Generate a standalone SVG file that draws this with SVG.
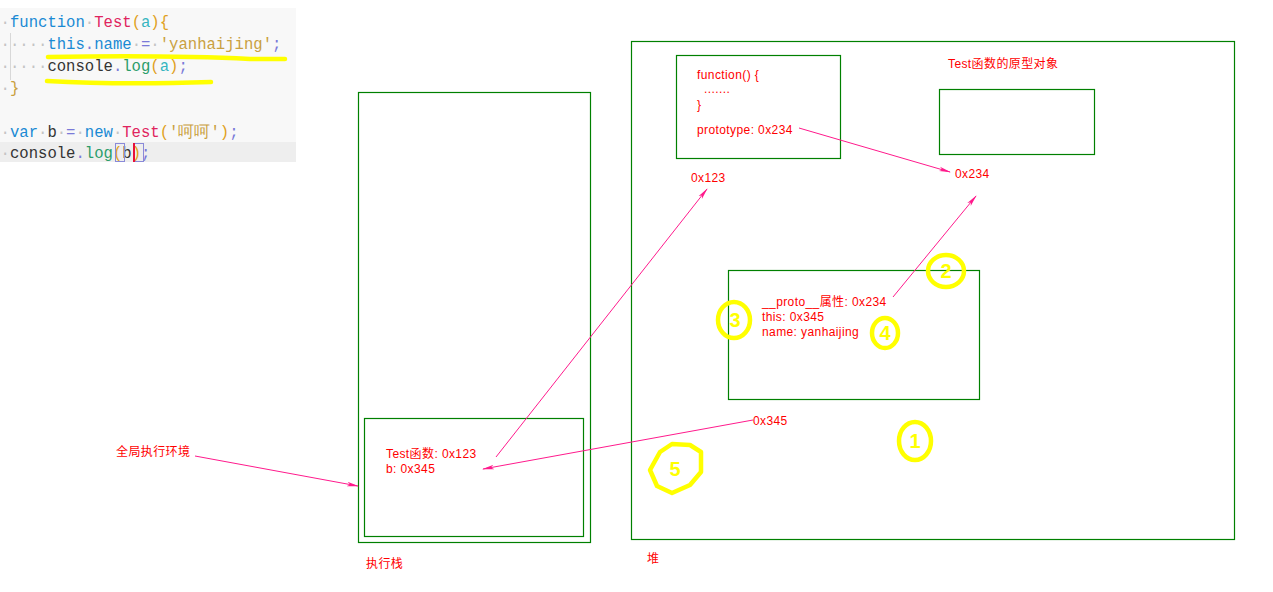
<svg xmlns="http://www.w3.org/2000/svg" width="1273" height="592" viewBox="0 0 1273 592">
<style>
.box{fill:none;stroke:#008000;stroke-width:1.2}
.lbl{font-family:"Liberation Sans","Noto Sans CJK SC",sans-serif;font-size:12px;fill:#ff0000;letter-spacing:0.4px}
.code{font-family:"Liberation Mono","DejaVu Sans Mono",monospace;font-size:15.6px;white-space:pre}
.ws{fill:#c4c4c4}
.kw{fill:#1a8ad4}
.fn{fill:#e0245e}
.pn{fill:#e0a020}
.st{fill:#c9a040}
.op{fill:#7a7ad8}
.id{fill:#333333}
.ar{fill:#35b5c0}
.mt{fill:#2a9d6a}
.conn{fill:none;stroke:#ff1a8c;stroke-width:1}
.hl{fill:none;stroke:#ffff00;stroke-width:4.5;stroke-linecap:round;stroke-linejoin:round}
.num{font-family:"Liberation Sans",sans-serif;font-size:20px;font-weight:bold;fill:#ffff00}
</style>
<defs>
<marker id="ah" markerUnits="userSpaceOnUse" markerWidth="12" markerHeight="6" refX="11" refY="3" orient="auto">
<path d="M0,0.8 L12,3 L0,5.2 L3,3 z" fill="#ff1a8c"/>
</marker>
</defs>
<rect width="1273" height="592" fill="#ffffff"/>

<g id="code-panel">
<rect x="0" y="8" width="296" height="154" fill="#f8f8f8"/>
<rect x="0" y="142" width="296" height="20" fill="#eeeeee"/>
<line x1="10.5" y1="33" x2="10.5" y2="80" stroke="#d8d8d8" stroke-width="1"/>
<text class="code" x="0.6" y="27" xml:space="preserve"><tspan class="ws">·</tspan><tspan class="kw">function</tspan><tspan class="ws">·</tspan><tspan class="fn">Test</tspan><tspan class="pn">(</tspan><tspan class="ar">a</tspan><tspan class="pn">){</tspan></text>
<text class="code" x="0.6" y="49" xml:space="preserve"><tspan class="ws">·····</tspan><tspan class="kw">this</tspan><tspan class="op">.</tspan><tspan class="kw">name</tspan><tspan class="ws">·</tspan><tspan class="op">=</tspan><tspan class="ws">·</tspan><tspan class="st">'yanhaijing'</tspan><tspan class="op">;</tspan></text>
<text class="code" x="0.6" y="71" xml:space="preserve"><tspan class="ws">·····</tspan><tspan class="id">console</tspan><tspan class="op">.</tspan><tspan class="mt">log</tspan><tspan class="pn">(</tspan><tspan class="ar">a</tspan><tspan class="pn">)</tspan><tspan class="op">;</tspan></text>
<text class="code" x="0.6" y="93" xml:space="preserve"><tspan class="ws">·</tspan><tspan class="st">}</tspan></text>
<text class="code" x="0.6" y="137" xml:space="preserve"><tspan class="ws">·</tspan><tspan class="kw">var</tspan><tspan class="ws">·</tspan><tspan class="id">b</tspan><tspan class="ws">·</tspan><tspan class="op">=</tspan><tspan class="ws">·</tspan><tspan class="kw">new</tspan><tspan class="ws">·</tspan><tspan class="fn">Test</tspan><tspan class="pn">(</tspan><tspan class="st">'呵呵'</tspan><tspan class="pn">)</tspan><tspan class="op">;</tspan></text>
<text class="code" x="0.6" y="158" xml:space="preserve"><tspan class="ws">·</tspan><tspan class="id">console</tspan><tspan class="op">.</tspan><tspan class="mt">log</tspan><tspan class="pn">(</tspan><tspan class="id">b</tspan><tspan class="pn">)</tspan><tspan class="op">;</tspan></text>
<rect x="115.5" y="143.5" width="9" height="18" fill="none" stroke="#8a8ad8" stroke-width="1"/>
<rect x="134.5" y="143.5" width="9" height="18" fill="none" stroke="#8a8ad8" stroke-width="1"/>
<rect x="133" y="143" width="2" height="19" fill="#e8103a"/>
<path class="hl" d="M48,57 Q170,55 250,59 L285,59"/>
<path class="hl" d="M47,81 Q120,85 211,82"/>
</g>

<g id="global-env">
<text class="lbl" x="116" y="456">全局执行环境</text>
</g>

<g id="exec-stack">
<rect class="box" x="358.5" y="92.5" width="232" height="450"/>
<text class="lbl" x="366" y="568">执行栈</text>
</g>

<g id="global-context">
<rect class="box" x="364.5" y="418.5" width="219" height="118"/>
<text class="lbl" x="386" y="458">Test函数: 0x123</text>
<text class="lbl" x="386" y="473">b: 0x345</text>
</g>

<g id="heap">
<rect class="box" x="631.5" y="41.5" width="603" height="498"/>
<text class="lbl" x="647" y="563">堆</text>
</g>

<g id="function-object">
<rect class="box" x="676.5" y="55.5" width="164" height="103"/>
<text class="lbl" x="697" y="79">function() {</text>
<text class="lbl" x="704" y="93">.......</text>
<text class="lbl" x="697" y="109">}</text>
<text class="lbl" x="697" y="134">prototype: 0x234</text>
<text class="lbl" x="691" y="182">0x123</text>
</g>

<g id="prototype-object">
<text class="lbl" x="948" y="68">Test函数的原型对象</text>
<rect class="box" x="939.5" y="89.5" width="155" height="65"/>
<text class="lbl" x="955" y="178">0x234</text>
</g>

<g id="instance-object">
<rect class="box" x="728.5" y="270.5" width="251" height="129"/>
<text class="lbl" x="762" y="306">__proto__属性: 0x234</text>
<text class="lbl" x="762" y="321">this: 0x345</text>
<text class="lbl" x="762" y="336">name: yanhaijing</text>
<text class="lbl" x="753" y="425">0x345</text>
</g>

<g id="connectors">
<line class="conn" x1="195" y1="456" x2="358" y2="486" marker-end="url(#ah)"/>
<line class="conn" x1="496" y1="457" x2="707" y2="189" marker-end="url(#ah)"/>
<line class="conn" x1="753" y1="420" x2="483" y2="469" marker-end="url(#ah)"/>
<line class="conn" x1="799" y1="128" x2="950" y2="172" marker-end="url(#ah)"/>
<line class="conn" x1="893" y1="297" x2="976" y2="196" marker-end="url(#ah)"/>
</g>

<g id="annotations">
<ellipse class="hl" cx="915" cy="441" rx="16" ry="19"/>
<text class="num" x="915" y="448" text-anchor="middle">1</text>
<ellipse class="hl" cx="946" cy="271" rx="18" ry="16"/>
<text class="num" x="946" y="278" text-anchor="middle">2</text>
<ellipse class="hl" cx="734" cy="320" rx="16" ry="18"/>
<text class="num" x="735" y="327" text-anchor="middle">3</text>
<ellipse class="hl" cx="885" cy="333" rx="13" ry="15"/>
<text class="num" x="885" y="340" text-anchor="middle">4</text>
<path class="hl" d="M660,452 L672,444 L690,445 L701,452 L701,472 L690,485 L672,493 L657,486 L650,470 Z"/>
<text class="num" x="675" y="476" text-anchor="middle">5</text>
</g>
</svg>
